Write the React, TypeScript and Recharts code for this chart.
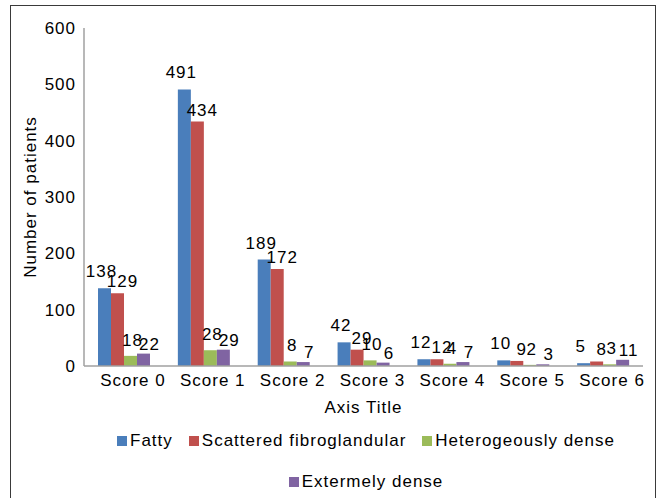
import { Bar, BarChart, LabelList, XAxis, YAxis } from "recharts";

const categories = ["Score 0", "Score 1", "Score 2", "Score 3", "Score 4", "Score 5", "Score 6"];
const fatty = [138, 491, 189, 42, 12, 10, 5];
const scattered = [129, 434, 172, 29, 12, 9, 8];
const hetero = [18, 28, 8, 10, 4, 2, 3];
const extreme = [22, 29, 7, 6, 7, 3, 11];
const yTicks = [0, 100, 200, 300, 400, 500, 600];

// labelDx / labelOffset mimic the way Excel nudged the data labels
const seriesInfo = [
  { key: "fatty", name: "Fatty", color: "#4a7ebb", labelDx: -3, labelOffset: 11 },
  { key: "scattered", name: "Scattered fibroglandular", color: "#c0504d", labelDx: 5, labelOffset: 6 },
  { key: "hetero", name: "Heterogeously dense", color: "#9bbb59", labelDx: 2, labelOffset: 10 },
  { key: "extreme", name: "Extermely dense", color: "#8064a2", labelDx: 6, labelOffset: 4 },
];

const data = categories.map((cat, i) => ({
  cat,
  fatty: fatty[i],
  scattered: scattered[i],
  hetero: hetero[i],
  extreme: extreme[i],
}));

const font = "'Liberation Sans', Arial, sans-serif";
const txt = { fontSize: 17, fill: "#000", fontFamily: font, letterSpacing: 1 };

export default function App() {
  return (
    <div style={{ position: "absolute", left: 0, top: 0, width: 657, height: 498, overflow: "hidden", background: "#fff", fontFamily: font }}>
      <div style={{ position: "absolute", left: 10, top: 5, width: 644, height: 540, border: "1.5px solid #3a3a3a" }} />
      <BarChart width={657} height={498} data={data} margin={{ top: 28, right: 14, left: 0, bottom: 102 }} barGap={0} barCategoryGap={14}>
        <XAxis
          dataKey="cat"
          height={30}
          tickLine={false}
          axisLine={{ stroke: "#a0a0a0", strokeWidth: 1.5 }}
          tick={{ ...txt, dx: 9 }}
          interval={0}
          label={{ value: "Axis Title", position: "bottom", offset: 5, style: txt }}
        />
        <YAxis
          width={84}
          domain={[0, 600]}
          ticks={yTicks}
          tickLine={false}
          axisLine={{ stroke: "#a0a0a0", strokeWidth: 1.5 }}
          tick={txt}
          label={{ value: "Number of patients", angle: -90, position: "center", dx: -12, style: txt }}
        />
        {seriesInfo.map((s) => (
          <Bar key={s.key} dataKey={s.key} name={s.name} fill={s.color} isAnimationActive={false}>
            <LabelList dataKey={s.key} position="top" offset={s.labelOffset} dx={s.labelDx} style={txt} />
          </Bar>
        ))}
      </BarChart>
      <div
        style={{
          position: "absolute",
          left: 84,
          top: 430,
          width: 564,
          display: "flex",
          flexWrap: "wrap",
          justifyContent: "center",
          columnGap: 16,
          rowGap: 20,
          fontSize: 17,
          letterSpacing: 1,
          lineHeight: "21px",
          color: "#000",
        }}
      >
        {seriesInfo.map((s) => (
          <div key={s.key} style={{ display: "flex", alignItems: "center", gap: 3 }}>
            <span style={{ width: 10, height: 10, background: s.color, display: "inline-block" }} />
            <span>{s.name}</span>
          </div>
        ))}
      </div>
    </div>
  );
}
